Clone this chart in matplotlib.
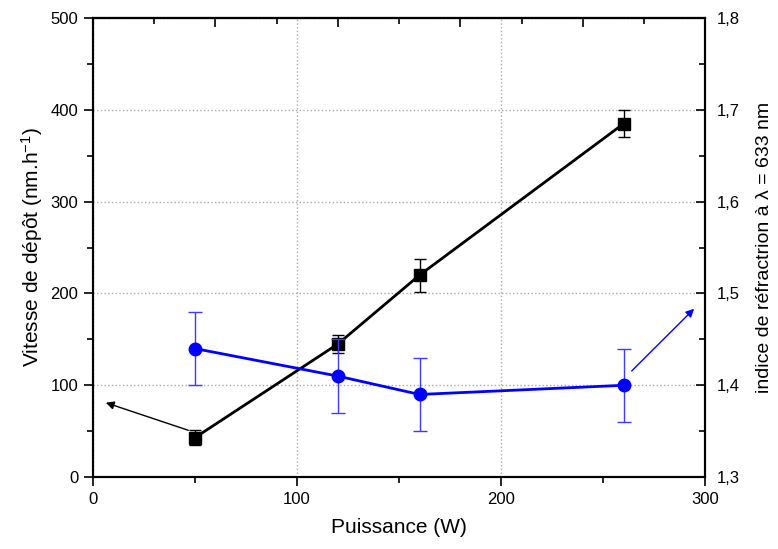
import numpy as np
import matplotlib
matplotlib.use("Agg")
import matplotlib.pyplot as plt
from matplotlib.ticker import MultipleLocator

plt.rcParams['font.family'] = ['Liberation Sans', 'DejaVu Sans']
plt.rcParams['mathtext.fontset'] = 'custom'
plt.rcParams['mathtext.rm'] = 'Liberation Sans'
plt.rcParams['mathtext.it'] = 'Liberation Sans:italic'

# données
puissance = [50, 120, 160, 260]
vitesse = [43, 145, 220, 385]
vitesse_err = [8, 10, 18, 15]
indice = [1.44, 1.41, 1.39, 1.40]
indice_err = [0.04, 0.04, 0.04, 0.04]

# fleches (depart, pointe) en coordonnees des donnees
fleche_noire = [(48, 50), (5, 82)]
fleche_bleue = [(263, 1.4135), (295.5, 1.4855)]

fig = plt.figure(figsize=(7.78, 5.49), dpi=100)
ax = fig.add_axes([0.1195, 0.131, 0.787, 0.836])
ax2 = ax.twinx()

# axe gauche
ax.errorbar(puissance, vitesse, yerr=vitesse_err, color='black', lw=2,
            marker='s', ms=8, elinewidth=1, capsize=4, capthick=1, zorder=3)
ax.set_xlim(0, 300)
ax.set_ylim(0, 500)
ax.xaxis.set_major_locator(MultipleLocator(100))
ax.xaxis.set_minor_locator(MultipleLocator(50))
ax.yaxis.set_major_locator(MultipleLocator(100))
ax.yaxis.set_minor_locator(MultipleLocator(50))
ax.tick_params(which='both', direction='out', width=1.2, labelsize=12, top=False)
ax.tick_params(which='major', length=6.5, pad=4)
ax.tick_params(which='minor', length=4)
ax.grid(True, which='major', color='#a8a8a8', ls=':', lw=1)
ax.set_xlabel('Puissance (W)', fontsize=15, labelpad=8)
ax.set_ylabel('Vitesse de dépôt (nm.h$^{-1}$)', fontsize=15, labelpad=4)

# axe du haut (graduations internes)
top = ax.secondary_xaxis('top')
top.xaxis.set_major_locator(MultipleLocator(60))
top.xaxis.set_minor_locator(MultipleLocator(30))
top.tick_params(which='both', direction='in', width=1.2, labeltop=False)
top.tick_params(which='major', length=6.5)
top.tick_params(which='minor', length=4)

# axe droit
ax2.errorbar(puissance, indice, yerr=indice_err, color='blue', lw=2,
             marker='o', ms=9, elinewidth=1, ecolor='#3c3cff', capsize=5,
             capthick=1, zorder=3)
ax2.set_ylim(1.3, 1.8)
ax2.yaxis.set_major_locator(MultipleLocator(0.1))
ax2.yaxis.set_minor_locator(MultipleLocator(0.05))
ax2.yaxis.set_major_formatter(lambda v, p: f'{v:.1f}'.replace('.', ','))
ax2.tick_params(which='both', direction='in', width=1.2, labelsize=12, pad=8)
ax2.tick_params(which='major', length=6.5)
ax2.tick_params(which='minor', length=4)
ax2.set_ylabel('indice de réfractrion à λ = 633 nm', fontsize=14, labelpad=12)

for a in (ax, ax2):
    for s in a.spines.values():
        s.set_linewidth(1.5)
top.spines['top'].set_linewidth(1.5)

ax.annotate('', xy=fleche_noire[1], xytext=fleche_noire[0],
            arrowprops=dict(arrowstyle='-|>', color='black', lw=1,
                            mutation_scale=12))
ax2.annotate('', xy=fleche_bleue[1], xytext=fleche_bleue[0],
             arrowprops=dict(arrowstyle='-|>', color='blue', lw=1,
                             mutation_scale=12))

fig.savefig('out.png', dpi=100)
